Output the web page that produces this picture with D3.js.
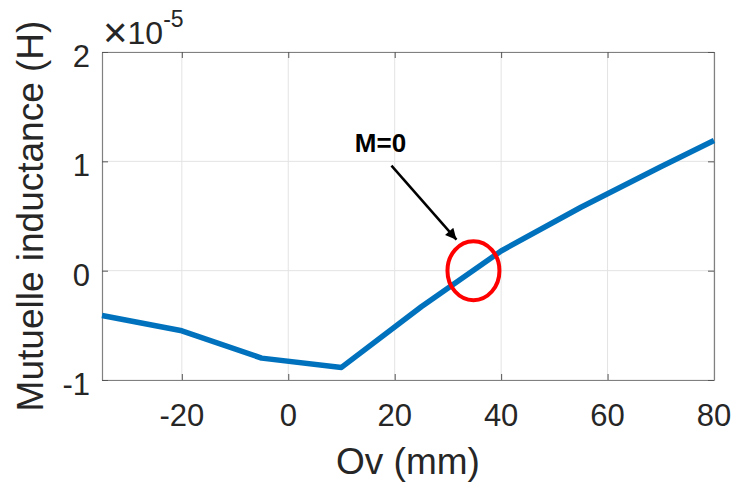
<!DOCTYPE html>
<html>
<head>
<meta charset="utf-8">
<script src="https://cdn.jsdelivr.net/npm/d3@7"></script>
<style>
  html, body { margin: 0; padding: 0; background: #fff; }
  svg { display: block; }
  text { font-family: "Liberation Sans", Arial, Helvetica, sans-serif; }
</style>
</head>
<body>
<script>
// ---- data ----
const ovMM = [-35, -20, -5, 10, 25, 40, 55, 70, 80];
const mutualInductance = [-0.41, -0.55, -0.80, -0.885, -0.33, 0.18, 0.58, 0.95, 1.19]; // x 1e-5 H
const xTicks = [-20, 0, 20, 40, 60, 80];
const yTicks = [-1, 0, 1, 2];
const xLabel = "Ov (mm)";
const yLabel = "Mutuelle inductance (H)";
const annotationText = "M=0";
const zeroCrossing = [34.8, 0];

// ---- layout ----
const W = 734, H = 484;
const margin = { left: 102, right: 20, top: 52, bottom: 104 };
const pw = W - margin.left - margin.right;
const ph = H - margin.top - margin.bottom;

const svg = d3.select("body").append("svg").attr("width", W).attr("height", H);
const g = svg.append("g").attr("transform", `translate(${margin.left},${margin.top})`);

const x = d3.scaleLinear().domain([-35, 80]).range([0, pw]);
const y = d3.scaleLinear().domain([-1, 2]).range([ph, 0]);

const gridColor = "#e3e3e3";
const axisColor = "#808080";
const textColor = "#262626";

// grid
g.append("g").selectAll("line").data(xTicks).join("line")
  .attr("x1", d => x(d)).attr("x2", d => x(d)).attr("y1", 0).attr("y2", ph)
  .attr("stroke", gridColor).attr("stroke-width", 1);
g.append("g").selectAll("line").data(yTicks).join("line")
  .attr("y1", d => y(d)).attr("y2", d => y(d)).attr("x1", 0).attr("x2", pw)
  .attr("stroke", gridColor).attr("stroke-width", 1);

// axes (inward ticks, box)
const tl = 6;
const xb = g.append("g").attr("transform", `translate(0,${ph})`)
  .call(d3.axisBottom(x).tickValues(xTicks).tickSizeInner(-tl).tickSizeOuter(0).tickFormat(""));
const xt = g.append("g")
  .call(d3.axisTop(x).tickValues(xTicks).tickSizeInner(-tl).tickSizeOuter(0).tickFormat(""));
const yl = g.append("g")
  .call(d3.axisLeft(y).tickValues(yTicks).tickSizeInner(-tl).tickSizeOuter(0).tickFormat(""));
const yr = g.append("g").attr("transform", `translate(${pw},0)`)
  .call(d3.axisRight(y).tickValues(yTicks).tickSizeInner(-tl).tickSizeOuter(0).tickFormat(""));
[xb, xt, yl, yr].forEach(a => {
  a.selectAll("path").attr("stroke", axisColor).attr("stroke-width", 1.2);
  a.selectAll("line").attr("stroke", "#555").attr("stroke-width", 1);
});

// tick labels
g.append("g").selectAll("text").data(xTicks).join("text")
  .attr("x", d => x(d)).attr("y", ph + 46)
  .attr("text-anchor", "middle").attr("font-size", 31).attr("fill", textColor)
  .text(d => d);
g.append("g").selectAll("text").data(yTicks).join("text")
  .attr("x", -12).attr("y", d => y(d) + 15)
  .attr("text-anchor", "end").attr("font-size", 31).attr("fill", textColor)
  .text(d => d);

// exponent
const ex = svg.append("text").attr("x", 103).attr("y", 44).attr("fill", textColor).attr("font-size", 32);
ex.append("tspan").attr("font-size", 42).attr("dy", 3).text("\u00d7");
ex.append("tspan").attr("dy", -3).text("10");
ex.append("tspan").attr("font-size", 23).attr("dy", -17).text("-5");

// axis labels
svg.append("text").attr("x", margin.left + pw / 2).attr("y", 474)
  .attr("text-anchor", "middle").attr("font-size", 37).attr("fill", textColor).text(xLabel);
svg.append("text")
  .attr("transform", `translate(43,${margin.top + ph / 2}) rotate(-90)`)
  .attr("text-anchor", "middle").attr("font-size", 37).attr("fill", textColor).text(yLabel);

// line
const line = d3.line().x((d, i) => x(ovMM[i])).y(d => y(d));
g.append("path").datum(mutualInductance)
  .attr("d", line).attr("fill", "none")
  .attr("stroke", "#0072BD").attr("stroke-width", 5.5)
  .attr("stroke-linejoin", "round");

// red ellipse
g.append("ellipse")
  .attr("cx", x(zeroCrossing[0])).attr("cy", y(zeroCrossing[1]))
  .attr("rx", 26).attr("ry", 29.5)
  .attr("fill", "none").attr("stroke", "#ff0000").attr("stroke-width", 4);

// arrow annotation
const defs = svg.append("defs");
defs.append("marker").attr("id", "ah").attr("viewBox", "0 0 10 10")
  .attr("refX", 10).attr("refY", 5).attr("markerWidth", 5).attr("markerHeight", 4.4)
  .attr("orient", "auto").attr("markerUnits", "strokeWidth")
  .append("path").attr("d", "M0,0 L10,5 L0,10 Z").attr("fill", "#000");
const ax0 = x(zeroCrossing[0]) - 82, ay0 = y(zeroCrossing[1]) - 105;
const ax1 = x(zeroCrossing[0]) - 17, ay1 = y(zeroCrossing[1]) - 31;
g.append("line").attr("x1", ax0).attr("y1", ay0).attr("x2", ax1).attr("y2", ay1)
  .attr("stroke", "#000").attr("stroke-width", 2.5).attr("marker-end", "url(#ah)");
g.append("text").attr("x", ax0 - 11).attr("y", ay0 - 14)
  .attr("text-anchor", "middle").attr("font-size", 26).attr("font-weight", "bold")
  .attr("fill", "#000").text(annotationText);
</script>
</body>
</html>
